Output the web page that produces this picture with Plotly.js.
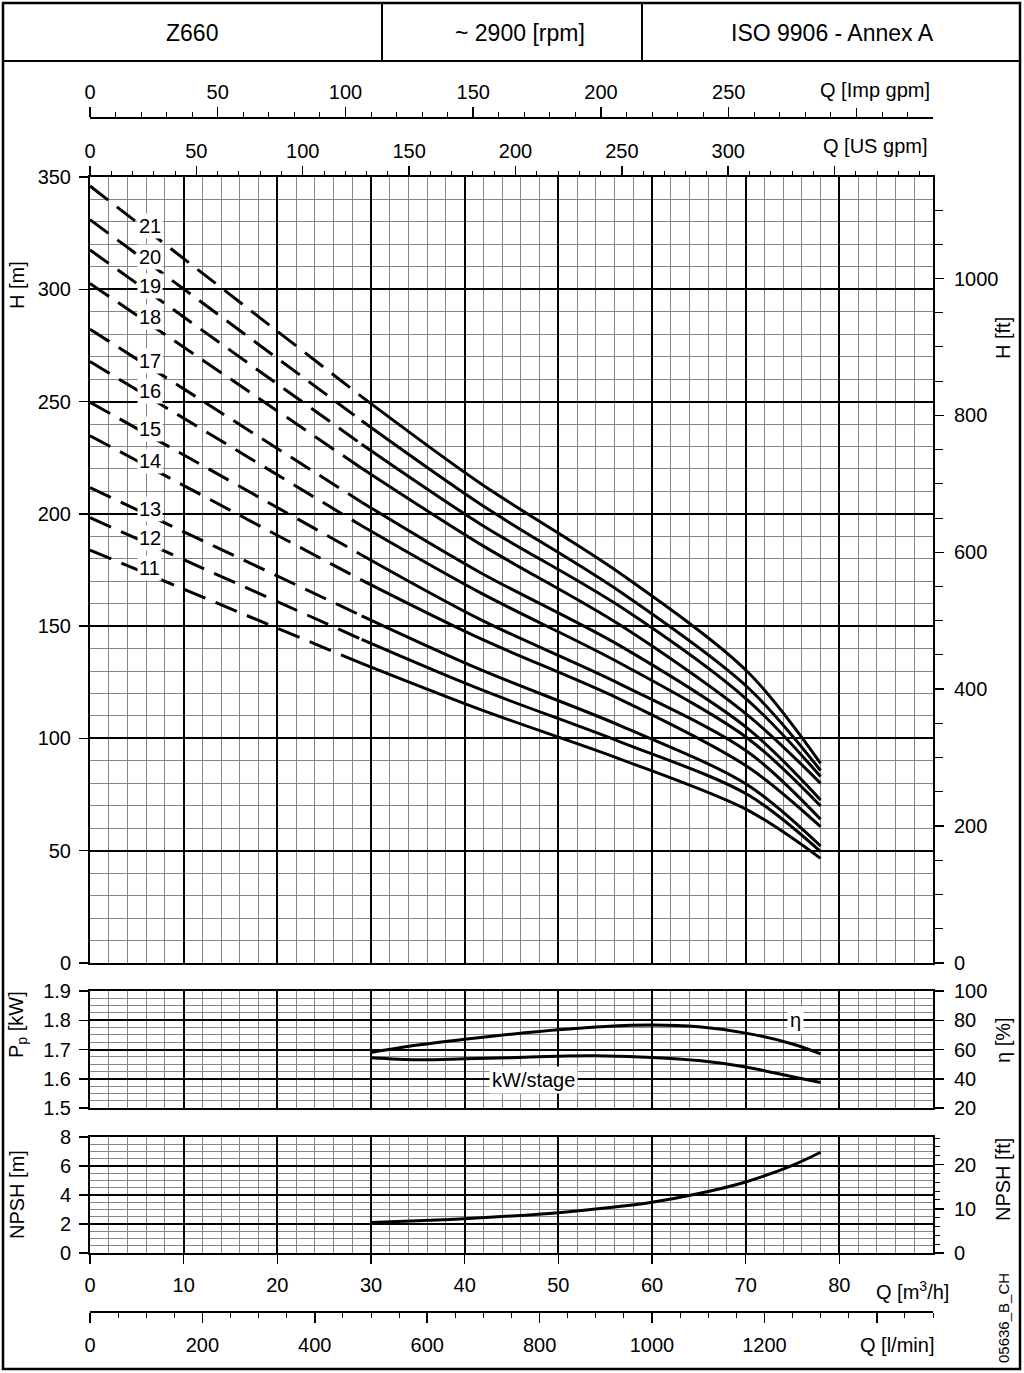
<!DOCTYPE html>
<html><head><meta charset="utf-8">
<script src="https://cdn.plot.ly/plotly-3.0.1.min.js"></script>
<style>html,body{margin:0;padding:0;background:#fff}#chart{width:1024px;height:1373px}</style>
</head><body><div id="chart"></div>
<script>
// ---------- data ----------
const stages = [21, 20, 19, 18, 17, 16, 15, 14, 13, 12, 11];
const qHead = [0, 29, 41.7, 56.6, 70.2, 78];           // Q [m3/h]
const H21 = [346.0, 252.2, 213.5, 173.5, 129.7, 88.9];
const H20 = [331.0, 241.5, 204.3, 165.3, 122.8, 85.7];
const H19 = [317.5, 231.0, 195.4, 158.7, 117.1, 83.0];
const H18 = [302.6, 220.3, 186.4, 150.5, 110.4, 80.0];
const H17 = [282.2, 205.2, 173.8, 141.2, 104.5, 72.6];
const H16 = [267.8, 194.7, 164.8, 133.5, 100.1, 69.9];
const H15 = [249.7, 181.7, 152.9, 124.2, 94.1, 64.0];
const H14 = [234.8, 170.5, 144.4, 117.4, 87.4, 60.7];
const H13 = [211.7, 154.6, 130.6, 105.7, 79.3, 52.1];
const H12 = [198.3, 144.1, 121.8, 98.5, 75.0, 49.6];
const H11 = [183.9, 133.4, 112.8, 90.8, 68.1, 46.6];
const headCurves = [H21, H20, H19, H18, H17, H16, H15, H14, H13, H12, H11];

const qPerf = [30, 35, 40, 45, 50, 55, 60, 65, 70, 75, 78];
const eta = [58, 63, 67, 70.5, 73.5, 75.8, 76.8, 75.5, 71.2, 63.8, 57];
const kwStage = [1.672, 1.665, 1.668, 1.672, 1.677, 1.678, 1.673, 1.662, 1.640, 1.607, 1.587];
const npsh = [2.1, 2.22, 2.37, 2.55, 2.78, 3.1, 3.5, 4.1, 4.9, 6.05, 6.95];

const qTicks = [0, 10, 20, 30, 40, 50, 60, 70, 80];
const impTicks = [0, 50, 100, 150, 200, 250];
const impTitleTick = [300];
const usTicks = [0, 50, 100, 150, 200, 250, 300];
const usTitleTick = [350];
const lminTicks = [0, 200, 400, 600, 800, 1000, 1200];
const lminTitleTick = [1400];

// unit conversions
const M3H_PER_IMPGPM = 0.272765;
const M3H_PER_USGPM = 0.227125;
const M_PER_FT = 0.3048;
const Q_MAX = 90;

// ---------- geometry helpers ----------
const W = 1024, HH = 1373;
const fx = p => p / W;
const fy = p => 1 - p / HH;
const FONT = 'Liberation Sans, Arial, sans-serif';
const f = (s) => ({family: FONT, size: s, color: '#000'});

const xDom = [fx(90), fx(933)];
const mainDom = [fy(963), fy(177)];
const powDom = [fy(1108), fy(991)];
const npDom = [fy(1253), fy(1137)];

const majorGrid = {showgrid: true, gridcolor: '#000', gridwidth: 2};
const minorGrid = (d) => ({dtick: d, showgrid: true, gridcolor: '#858585', gridwidth: 1});
const baseX = (extra) => Object.assign({
  domain: xDom, range: [0, Q_MAX], showline: true, mirror: true, linecolor: '#000', linewidth: 2,
  dtick: 10, tick0: 0, ...majorGrid, zeroline: false, showticklabels: false, ticks: '',
  minor: minorGrid(2)
}, extra);
const minorTicks = (d, len) => ({tickmode: 'linear', tick0: 0, dtick: d, ticks: 'outside', ticklen: len, tickwidth: 1, tickcolor: '#000', showgrid: false});
const tickOnly = (extra) => Object.assign({showgrid: false, zeroline: false, showline: false, showticklabels: false,
  tickmode: 'array', ticks: 'outside', ticklen: 10, tickwidth: 1.5, tickcolor: '#000'}, extra);

// ---------- traces ----------
const traces = [];
function interp(xs, ys, x) {
  for (let i = 0; i < xs.length - 1; i++) {
    if (x >= xs[i] && x <= xs[i + 1]) return ys[i] + (ys[i + 1] - ys[i]) * (x - xs[i]) / (xs[i + 1] - xs[i]);
  }
  return ys[ys.length - 1];
}
headCurves.forEach((H, i) => {
  traces.push({type: 'scatter', mode: 'lines', x: qHead.slice(0, 2), y: H.slice(0, 2), xaxis: 'x', yaxis: 'y',
    line: {color: '#000', width: 3, dash: '23px,11px'}, hoverinfo: 'skip', showlegend: false});
  traces.push({type: 'scatter', mode: 'lines', x: qHead.slice(1), y: H.slice(1), xaxis: 'x', yaxis: 'y',
    line: {color: '#000', width: 3, shape: 'spline', smoothing: 0.9}, hoverinfo: 'skip', showlegend: false});
});
traces.push({type: 'scatter', mode: 'lines', x: qPerf, y: eta, xaxis: 'x4', yaxis: 'y4',
  line: {color: '#000', width: 3, shape: 'spline'}, showlegend: false, hoverinfo: 'skip'});
traces.push({type: 'scatter', mode: 'lines', x: qPerf, y: kwStage, xaxis: 'x4', yaxis: 'y3',
  line: {color: '#000', width: 3, shape: 'spline'}, showlegend: false, hoverinfo: 'skip'});
traces.push({type: 'scatter', mode: 'lines', x: qPerf, y: npsh, xaxis: 'x5', yaxis: 'y5',
  line: {color: '#000', width: 3, shape: 'spline'}, showlegend: false, hoverinfo: 'skip'});
// empty traces so every secondary axis gets its subplot
[['x2', 'y'], ['x3', 'y'], ['x', 'y2'], ['x5', 'y6'], ['x6', 'y5'], ['x7', 'y'], ['x8', 'y'], ['x9', 'y5']].forEach(([a, b]) =>
  traces.push({type: 'scatter', mode: 'lines', x: [], y: [], xaxis: a, yaxis: b, showlegend: false, hoverinfo: 'skip'}));

// ---------- annotations ----------
const ann = [];
const labelQ = 6.4;
stages.forEach((s, i) => {
  ann.push({xref: 'x', yref: 'y', x: labelQ, y: interp(qHead, headCurves[i], labelQ) + 3, text: String(s),
    showarrow: false, font: f(20), bgcolor: '#fff', borderpad: 1});
});
ann.push({xref: 'x4', yref: 'y4', x: 75.3, y: 80, text: 'η', showarrow: false, font: f(20), bgcolor: '#fff', borderpad: 2});
ann.push({xref: 'x4', yref: 'y3', x: 47.3, y: 1.597, text: 'kW/stage', showarrow: false, font: f(20), bgcolor: '#fff', borderpad: 2});
const pa = (x, y, text, opts) => ann.push(Object.assign({xref: 'paper', yref: 'paper', x: fx(x), y: fy(y), text,
  showarrow: false, font: f(20), xanchor: 'center', yanchor: 'middle'}, opts || {}));
// header
pa(192, 33, 'Z660', {font: f(23)});
pa(520, 33, '~ 2900 [rpm]', {font: f(23)});
pa(832, 33, 'ISO 9906 - Annex A', {font: f(23)});
// axis titles
pa(932, 90, 'Q [Imp gpm]', {xanchor: 'right'});
pa(929, 146, 'Q [US gpm]', {xanchor: 'right'});
pa(912, 1290, 'Q [m<sup>3</sup>/h]');
pa(897, 1345, 'Q [l/min]');
pa(17, 285, 'H [m]', {textangle: -90});
pa(1003, 338, 'H [ft]', {textangle: -90});
pa(17, 1025, 'P<sub>p</sub> [kW]', {textangle: -90});
pa(1003, 1040, 'η [%]', {textangle: -90});
pa(17, 1195, 'NPSH [m]', {textangle: -90});
pa(1003, 1180, 'NPSH [ft]', {textangle: -90});
pa(1003, 1318, '05636_B_CH', {textangle: -90, font: f(15)});

// ---------- shapes ----------
const line = (x0, y0, x1, y1, w) => ({type: 'line', xref: 'paper', yref: 'paper', x0: fx(x0), y0: fy(y0), x1: fx(x1), y1: fy(y1), line: {color: '#000', width: w || 2}});
const shapes = [
  {type: 'rect', xref: 'paper', yref: 'paper', x0: fx(3), y0: fy(1369), x1: fx(1020), y1: fy(3), line: {color: '#000', width: 2.5}},
  line(3, 61, 1020, 61), line(382, 3, 382, 61), line(642, 3, 642, 61)
];

const tickFont = f(20);
const usRange = [0, Q_MAX / M3H_PER_USGPM];
const impRange = [0, Q_MAX / M3H_PER_IMPGPM];
const lminRange = [0, Q_MAX * 1000 / 60];
const layout = {
  width: W, height: HH, margin: {l: 0, r: 0, t: 0, b: 0}, paper_bgcolor: '#fff', plot_bgcolor: '#fff',
  showlegend: false, font: f(20),
  // main
  xaxis: baseX({anchor: 'y'}),
  yaxis: {domain: mainDom, anchor: 'x', range: [0, 350], dtick: 50, tick0: 0, ...majorGrid, zeroline: false,
    showline: true, mirror: true, linecolor: '#000', linewidth: 2, ticks: 'outside', ticklen: 9, tickwidth: 1.5,
    tickcolor: '#000', tickfont: tickFont, ticklabelstandoff: 4, minor: minorGrid(10)},
  yaxis2: {overlaying: 'y', anchor: 'x', side: 'right', range: [0, 350 / M_PER_FT], tickvals: [0, 200, 400, 600, 800, 1000],
    showgrid: false, zeroline: false, showline: false, ticks: 'outside', ticklen: 10, tickwidth: 1.5, tickcolor: '#000',
    tickfont: tickFont, ticklabelstandoff: 6,
    minor: {dtick: 50, ticks: 'outside', ticklen: 9, tickwidth: 1, tickcolor: '#000', showgrid: false}},
  xaxis2: {overlaying: 'x', anchor: 'y', side: 'top', range: usRange, tickmode: 'array', tickvals: usTicks,
    showgrid: false, zeroline: false, showline: false,
    ticks: 'outside', ticklen: 10, tickwidth: 1.5, tickcolor: '#000', tickfont: tickFont, ticklabelstandoff: 0,
    minor: minorTicks(10, 5)},
  xaxis7: tickOnly({overlaying: 'x', anchor: 'y', side: 'top', range: usRange, tickvals: usTitleTick}),
  xaxis3: {overlaying: 'x', anchor: 'free', position: fy(118), side: 'top', range: impRange,
    tickmode: 'array', tickvals: impTicks,
    showgrid: false, zeroline: false, showline: true, linecolor: '#000', linewidth: 2,
    ticks: 'outside', ticklen: 10, tickwidth: 1.5, tickcolor: '#000', tickfont: tickFont, ticklabelstandoff: 0,
    minor: minorTicks(10, 5)},
  xaxis8: tickOnly({overlaying: 'x', anchor: 'free', position: fy(118), side: 'top', range: impRange, tickvals: impTitleTick}),
  // power / efficiency
  xaxis4: baseX({anchor: 'y3'}),
  yaxis3: {domain: powDom, anchor: 'x4', range: [1.5, 1.9], dtick: 0.1, tick0: 1.5, tickformat: '.1f', ...majorGrid, zeroline: false,
    showline: true, mirror: true, linecolor: '#000', linewidth: 2, ticks: 'outside', ticklen: 9, tickwidth: 1.5,
    tickcolor: '#000', tickfont: tickFont, ticklabelstandoff: 4, minor: minorGrid(0.025)},
  yaxis4: {overlaying: 'y3', anchor: 'x4', side: 'right', range: [20, 100], dtick: 20, tick0: 20, showgrid: false,
    zeroline: false, showline: false, ticks: 'outside', ticklen: 10, tickwidth: 1.5, tickcolor: '#000', tickfont: tickFont,
    ticklabelstandoff: 6},
  // NPSH
  xaxis5: baseX({anchor: 'y5', showticklabels: true, tickmode: 'array', tickvals: qTicks, ticks: 'outside', ticklen: 9,
    tickwidth: 1.5, tickcolor: '#000', tickfont: tickFont, ticklabelstandoff: 4}),
  yaxis5: {domain: npDom, anchor: 'x5', range: [0, 8], dtick: 2, tick0: 0, ...majorGrid, zeroline: false,
    showline: true, mirror: true, linecolor: '#000', linewidth: 2, ticks: 'outside', ticklen: 9, tickwidth: 1.5,
    tickcolor: '#000', tickfont: tickFont, ticklabelstandoff: 4, minor: minorGrid(0.5)},
  yaxis6: {overlaying: 'y5', anchor: 'x5', side: 'right', range: [0, 8 / M_PER_FT], tickvals: [0, 10, 20], showgrid: false,
    zeroline: false, showline: false, ticks: 'outside', ticklen: 10, tickwidth: 1.5, tickcolor: '#000', tickfont: tickFont,
    ticklabelstandoff: 6, minor: minorTicks(2, 6)},
  xaxis6: {overlaying: 'x5', anchor: 'free', position: fy(1312), side: 'bottom', range: lminRange,
    tickmode: 'array', tickvals: lminTicks,
    showgrid: false, zeroline: false, showline: true, linecolor: '#000', linewidth: 2,
    ticks: 'outside', ticklen: 10, tickwidth: 1.5, tickcolor: '#000', tickfont: tickFont, ticklabelstandoff: 5,
    minor: minorTicks(50, 5)},
  xaxis9: tickOnly({overlaying: 'x5', anchor: 'free', position: fy(1312), side: 'bottom', range: lminRange, tickvals: lminTitleTick}),
  annotations: ann,
  shapes: shapes
};

Plotly.newPlot('chart', traces, layout, {staticPlot: true, displayModeBar: false});
</script></body></html>
